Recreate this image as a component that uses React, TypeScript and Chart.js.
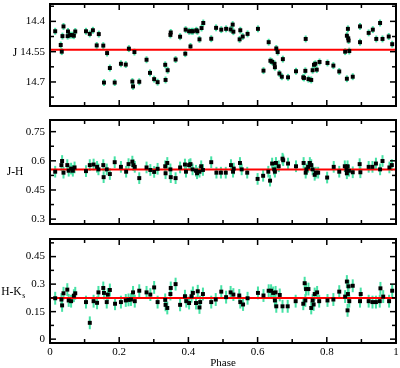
import React, { useEffect, useRef } from "react";
import { Chart, registerables } from "chart.js";
Chart.register(...registerables);

const FONT = "'Liberation Serif', 'Times New Roman', serif";

// ---------- data ----------
const J_PHASE = [0.015,0.031,0.034,0.036,0.039,0.051,0.052,0.058,0.064,0.069,0.073,0.104,0.115,0.124,0.135,0.141,0.154,0.156,0.165,0.173,0.187,0.205,0.219,0.228,0.238,0.240,0.244,0.258,0.279,0.289,0.301,0.311,0.333,0.334,0.340,0.348,0.349,0.363,0.376,0.391,0.392,0.402,0.406,0.409,0.413,0.423,0.426,0.432,0.438,0.443,0.466,0.480,0.495,0.509,0.522,0.528,0.530,0.548,0.550,0.557,0.571,0.601,0.617,0.632,0.637,0.642,0.649,0.650,0.654,0.658,0.663,0.670,0.673,0.688,0.711,0.732,0.734,0.738,0.739,0.747,0.755,0.759,0.763,0.767,0.771,0.779,0.802,0.819,0.836,0.853,0.858,0.858,0.861,0.862,0.863,0.865,0.875,0.896,0.896,0.921,0.933,0.943,0.954,0.961,0.979,0.989];
const J_MAG = [14.449,14.517,14.550,14.473,14.425,14.473,14.450,14.468,14.468,14.471,14.450,14.449,14.462,14.444,14.519,14.463,14.520,14.703,14.557,14.631,14.703,14.610,14.614,14.535,14.698,14.722,14.552,14.699,14.590,14.655,14.686,14.701,14.615,14.690,14.642,14.467,14.455,14.589,14.476,14.560,14.441,14.449,14.524,14.449,14.449,14.444,14.449,14.489,14.433,14.408,14.486,14.432,14.441,14.437,14.440,14.416,14.451,14.489,14.444,14.475,14.462,14.437,14.644,14.503,14.595,14.600,14.610,14.627,14.534,14.552,14.658,14.674,14.587,14.677,14.647,14.677,14.680,14.645,14.487,14.686,14.690,14.642,14.615,14.610,14.639,14.601,14.606,14.619,14.648,14.550,14.684,14.471,14.437,14.484,14.495,14.547,14.674,14.425,14.503,14.457,14.441,14.487,14.408,14.487,14.475,14.513];
const J_ERR = 0.017;
const J_MEAN = 14.54;

const JH_PHASE = [0.015,0.033,0.035,0.039,0.050,0.054,0.061,0.066,0.071,0.104,0.115,0.126,0.136,0.140,0.154,0.155,0.164,0.173,0.187,0.205,0.220,0.227,0.238,0.241,0.245,0.258,0.279,0.290,0.301,0.311,0.333,0.334,0.339,0.348,0.349,0.363,0.376,0.390,0.393,0.402,0.406,0.412,0.422,0.425,0.432,0.437,0.442,0.466,0.481,0.494,0.508,0.523,0.529,0.531,0.549,0.554,0.570,0.600,0.616,0.631,0.636,0.642,0.648,0.650,0.653,0.661,0.672,0.674,0.688,0.711,0.733,0.739,0.741,0.746,0.751,0.755,0.759,0.765,0.768,0.775,0.801,0.820,0.836,0.852,0.857,0.858,0.860,0.864,0.875,0.895,0.897,0.921,0.932,0.942,0.954,0.961,0.981,0.988];
const JH_VAL = [0.544,0.578,0.599,0.539,0.578,0.549,0.560,0.549,0.566,0.547,0.578,0.581,0.569,0.556,0.578,0.516,0.556,0.532,0.593,0.569,0.544,0.583,0.596,0.578,0.569,0.511,0.566,0.553,0.543,0.559,0.572,0.536,0.589,0.556,0.516,0.511,0.566,0.581,0.544,0.578,0.583,0.556,0.549,0.536,0.544,0.572,0.553,0.593,0.539,0.539,0.539,0.578,0.544,0.560,0.589,0.556,0.539,0.507,0.523,0.544,0.498,0.586,0.556,0.544,0.589,0.572,0.611,0.603,0.586,0.572,0.589,0.539,0.556,0.569,0.589,0.578,0.556,0.528,0.539,0.539,0.514,0.569,0.544,0.572,0.553,0.536,0.572,0.549,0.541,0.583,0.541,0.569,0.569,0.586,0.556,0.599,0.566,0.578];
const JH_ERR = 0.03;
const JH_MEAN = 0.555;

const HK_PHASE = [0.015,0.033,0.035,0.039,0.050,0.054,0.061,0.069,0.073,0.104,0.115,0.126,0.136,0.140,0.154,0.156,0.164,0.167,0.173,0.188,0.205,0.219,0.227,0.234,0.240,0.245,0.258,0.279,0.290,0.301,0.311,0.333,0.334,0.339,0.348,0.349,0.363,0.376,0.390,0.394,0.402,0.409,0.413,0.422,0.427,0.432,0.434,0.442,0.466,0.479,0.495,0.509,0.522,0.530,0.547,0.550,0.558,0.571,0.601,0.617,0.632,0.639,0.645,0.650,0.652,0.654,0.664,0.672,0.687,0.710,0.732,0.736,0.738,0.740,0.747,0.755,0.759,0.762,0.765,0.772,0.778,0.802,0.819,0.836,0.853,0.858,0.860,0.861,0.863,0.865,0.875,0.896,0.898,0.921,0.932,0.942,0.953,0.955,0.963,0.980,0.989];
const HK_VAL = [0.223,0.216,0.184,0.250,0.270,0.211,0.207,0.237,0.250,0.202,0.089,0.207,0.198,0.255,0.279,0.252,0.202,0.243,0.268,0.193,0.202,0.211,0.214,0.216,0.255,0.207,0.264,0.255,0.243,0.282,0.202,0.214,0.187,0.170,0.246,0.279,0.300,0.187,0.234,0.207,0.197,0.234,0.252,0.197,0.261,0.173,0.202,0.246,0.202,0.216,0.259,0.229,0.255,0.243,0.238,0.202,0.189,0.223,0.252,0.238,0.264,0.264,0.252,0.211,0.255,0.179,0.241,0.179,0.179,0.207,0.193,0.305,0.211,0.273,0.273,0.170,0.211,0.189,0.246,0.255,0.207,0.211,0.216,0.259,0.232,0.314,0.157,0.246,0.288,0.207,0.291,0.207,0.246,0.207,0.202,0.202,0.207,0.277,0.232,0.207,0.264];
const HK_ERR = 0.035;
const HK_MEAN = 0.225;

const X_MAJOR = [0, 0.2, 0.4, 0.6, 0.8, 1];
const X_LABELS = ["0", "0.2", "0.4", "0.6", "0.8", "1"];
const X_MINOR = [0.1, 0.3, 0.5, 0.7, 0.9];

const J_TICKS = [14.4, 14.55, 14.7];
const J_LABELS = ["14.4", "14.55", "14.7"];
const J_MINOR = [14.325, 14.475, 14.625, 14.775];
const JH_TICKS = [0.3, 0.45, 0.6, 0.75];
const JH_LABELS = ["0.3", "0.45", "0.6", "0.75"];
const JH_MINOR = [0.375, 0.525, 0.675];
const HK_TICKS = [0, 0.15, 0.3, 0.45];
const HK_LABELS = ["0", "0.15", "0.3", "0.45"];
const HK_MINOR = [0.075, 0.225, 0.375, 0.525];

const ERR_COLOR = "rgb(70,226,165)";

type Cfg = {
  phase: number[]; vals: number[]; err: number; mean: number;
  yMin: number; yMax: number; reverse: boolean;
  ticks: number[]; labels: string[]; minor: number[];
  title: string; titleSub?: string; titleX: number; titleY: number;
  top: number; height: number; padTop: number; padBottom: number; showX: boolean;
};

const PANELS: Cfg[] = [
  { phase: J_PHASE, vals: J_MAG, err: J_ERR, mean: J_MEAN, yMin: 14.314, yMax: 14.819, reverse: true,
    ticks: J_TICKS, labels: J_LABELS, minor: J_MINOR, title: "J", titleX: 15, titleY: 53,
    top: 0, height: 110, padTop: -2, padBottom: 3, showX: false },
  { phase: JH_PHASE, vals: JH_VAL, err: JH_ERR, mean: JH_MEAN, yMin: 0.275, yMax: 0.81, reverse: false,
    ticks: JH_TICKS, labels: JH_LABELS, minor: JH_MINOR, title: "J-H", titleX: 15, titleY: 172,
    top: 116, height: 112, padTop: -1, padBottom: 3, showX: false },
  { phase: HK_PHASE, vals: HK_VAL, err: HK_ERR, mean: HK_MEAN, yMin: -0.021, yMax: 0.546, reverse: false,
    ticks: HK_TICKS, labels: HK_LABELS, minor: HK_MINOR, title: "H-K", titleSub: "s", titleX: 13, titleY: 292,
    top: 235, height: 133, padTop: 1, padBottom: 0, showX: true },
];

function Panel({ cfg }: { cfg: Cfg }) {
  const ref = useRef<HTMLCanvasElement>(null);
  useEffect(() => {
    const errPlugin = {
      id: "errbars",
      beforeDatasetsDraw(chart: any) {
        const { ctx, chartArea, scales } = chart;
        ctx.save();
        ctx.fillStyle = ERR_COLOR;
        cfg.phase.forEach((p, i) => {
          const px = scales.x.getPixelForValue(p);
          const y1 = scales.y.getPixelForValue(cfg.vals[i] - cfg.err);
          const y2 = scales.y.getPixelForValue(cfg.vals[i] + cfg.err);
          const a = Math.max(Math.min(y1, y2), chartArea.top);
          const b = Math.min(Math.max(y1, y2), chartArea.bottom);
          ctx.fillRect(px - 1, a, 2, b - a);
        });
        ctx.restore();
      },
    };
    const framePlugin = {
      id: "frame",
      afterDraw(chart: any) {
        const { ctx, chartArea, scales } = chart;
        const { left, right, top, bottom } = chartArea;
        ctx.save();
        ctx.fillStyle = "#000";
        const xt = [...X_MAJOR.map((v) => [v, 6]), ...X_MINOR.map((v) => [v, 4])];
        xt.forEach(([v, len]) => {
          if (v <= 0 || v >= 1) return;
          const px = scales.x.getPixelForValue(v);
          ctx.fillRect(px - 0.75, bottom - len, 1.5, len);
          ctx.fillRect(px - 0.75, top, 1.5, len);
        });
        const yt = [...cfg.ticks.map((v) => [v, 6]), ...cfg.minor.map((v) => [v, 4])];
        yt.forEach(([v, len]) => {
          if (v <= cfg.yMin || v >= cfg.yMax) return;
          const py = scales.y.getPixelForValue(v);
          ctx.fillRect(left, py - 0.75, len, 1.5);
          ctx.fillRect(right - len, py - 0.75, len, 1.5);
        });
        // frame
        ctx.fillRect(left - 1, top - 1, right - left + 2, 2);
        ctx.fillRect(left - 1, bottom - 1, right - left + 2, 2);
        ctx.fillRect(left - 1, top - 1, 2, bottom - top + 2);
        ctx.fillRect(right - 1, top - 1, 2, bottom - top + 2);
        // axis title
        ctx.textBaseline = "middle";
        ctx.font = `11.5px ${FONT}`;
        const ty = cfg.titleY - cfg.top;
        if (cfg.titleSub) {
          const w1 = ctx.measureText(cfg.title).width;
          ctx.font = `8px ${FONT}`;
          const w2 = ctx.measureText(cfg.titleSub).width;
          const sx = cfg.titleX - (w1 + w2) / 2;
          ctx.font = `11.5px ${FONT}`;
          ctx.textAlign = "left";
          ctx.fillText(cfg.title, sx, ty);
          ctx.font = `8px ${FONT}`;
          ctx.fillText(cfg.titleSub, sx + w1 + 0.5, ty + 4);
        } else {
          ctx.textAlign = "center";
          ctx.fillText(cfg.title, cfg.titleX, ty);
        }
        if (cfg.showX) {
          ctx.font = `11px ${FONT}`;
          ctx.textAlign = "center";
          ctx.fillText("Phase", (left + right) / 2, 363 - cfg.top);
        }
        ctx.restore();
      },
    };
    const findLabel = (arr: number[], labels: string[], v: number) => {
      const i = arr.findIndex((t) => Math.abs(t - v) < 1e-9);
      return i >= 0 ? labels[i] : "";
    };
    const chart = new Chart(ref.current!, {
      type: "scatter",
      data: {
        datasets: [
          {
            type: "scatter",
            data: cfg.phase.map((p, i) => ({ x: p, y: cfg.vals[i] })),
            pointStyle: "rect",
            pointRadius: 2.8,
            backgroundColor: "#000",
            borderColor: "#000",
            borderWidth: 0,
            order: 0,
          } as any,
          {
            type: "line",
            data: [{ x: 0, y: cfg.mean }, { x: 1, y: cfg.mean }],
            borderColor: "#ff0000",
            borderWidth: 2,
            pointRadius: 0,
            order: 1,
          } as any,
        ],
      },
      options: {
        responsive: false,
        animation: false,
        devicePixelRatio: 1,
        events: [],
        layout: { padding: { top: cfg.padTop, bottom: cfg.padBottom, left: 0, right: 2 } },
        plugins: { legend: { display: false }, tooltip: { enabled: false } },
        scales: {
          x: {
            type: "linear",
            min: 0,
            max: 1,
            display: cfg.showX,
            grid: { display: false, drawTicks: false },
            border: { display: false },
            ticks: {
              font: { family: FONT, size: 11 },
              color: "#000",
              padding: 3,
              maxRotation: 0,
              autoSkip: false,
              callback: (v: any) => findLabel(X_MAJOR, X_LABELS, Number(v)),
            },
            afterBuildTicks: (s: any) => { s.ticks = X_MAJOR.map((v) => ({ value: v })); },
            afterFit: (s: any) => { s.height = cfg.showX ? 25 : 0; s.paddingLeft = 0; s.paddingRight = 0; },
          },
          y: {
            type: "linear",
            min: cfg.yMin,
            max: cfg.yMax,
            reverse: cfg.reverse,
            grid: { display: false, drawTicks: false },
            border: { display: false },
            ticks: {
              font: { family: FONT, size: 11 },
              color: "#000",
              padding: 5,
              autoSkip: false,
              callback: (v: any) => findLabel(cfg.ticks, cfg.labels, Number(v)),
            },
            afterBuildTicks: (s: any) => { s.ticks = cfg.ticks.map((v) => ({ value: v })); },
            afterFit: (s: any) => { s.width = 50; s.paddingTop = 0; s.paddingBottom = 0; },
          },
        },
      } as any,
      plugins: [errPlugin, framePlugin],
    });
    return () => chart.destroy();
  }, []);
  return (
    <canvas
      ref={ref}
      width={400}
      height={cfg.height}
      style={{ position: "absolute", left: 0, top: cfg.top, width: 400, height: cfg.height, display: "block" }}
    />
  );
}

export default function App() {
  return (
    <div style={{ position: "fixed", left: 0, top: 0, width: 400, height: 368, background: "#fff", overflow: "hidden" }}>
      {PANELS.map((p, i) => (
        <Panel key={i} cfg={p} />
      ))}
    </div>
  );
}
